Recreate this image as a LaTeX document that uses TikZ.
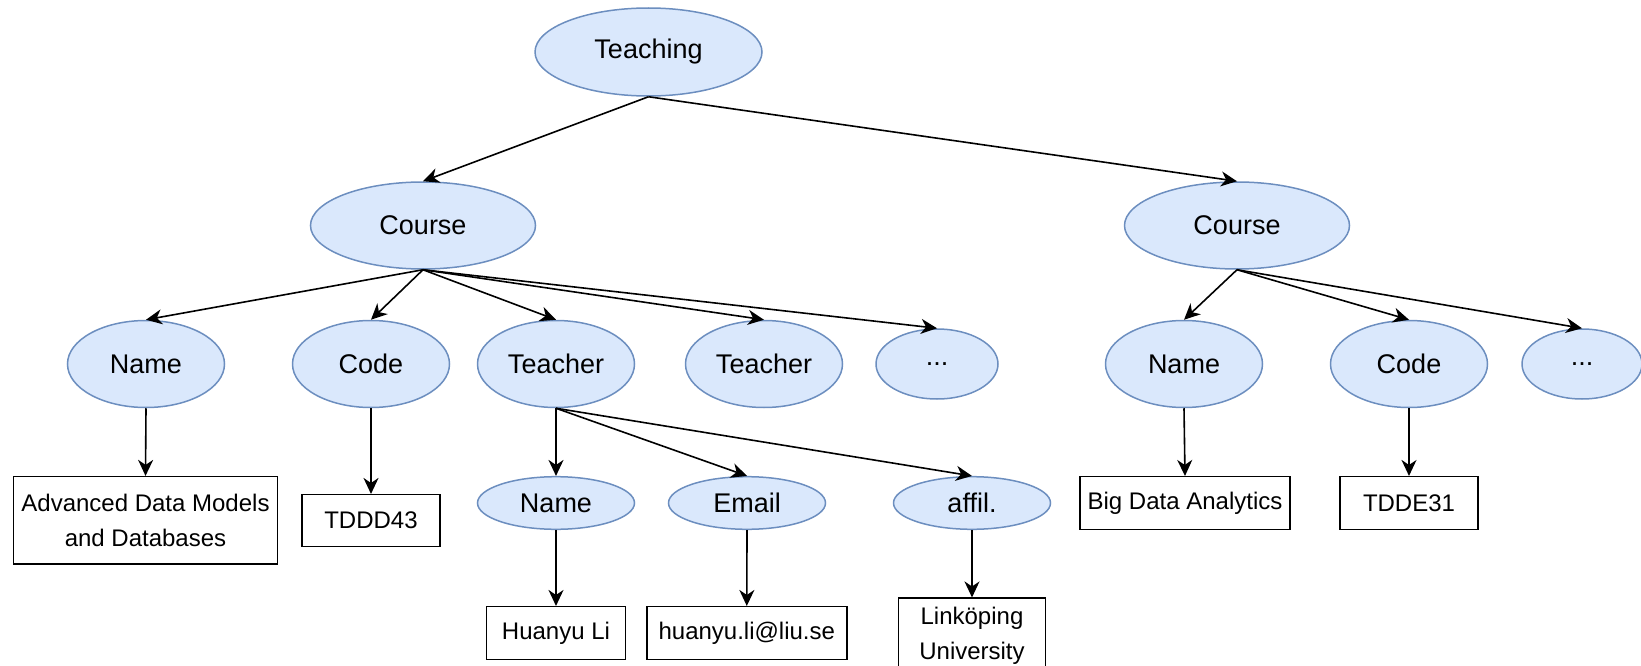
\documentclass[tikz,border=0pt]{standalone}
\usepackage{fontspec}
\setmainfont{Liberation Sans}
\usetikzlibrary{shapes.geometric,arrows.meta}

\definecolor{attrfill}{HTML}{DAE8FC}
\definecolor{attrline}{HTML}{6C8EBF}

\tikzset{
  attr/.style={ellipse, draw=attrline, fill=attrfill, line width=1.5pt,
    inner sep=0pt, font=\fontsize{27}{32}\selectfont},
  big/.style={minimum width=225pt, minimum height=87pt},
  mid/.style={minimum width=157pt, minimum height=87pt},
  dots/.style={minimum width=122pt, minimum height=70pt},
  flat/.style={minimum width=157pt, minimum height=52.6pt},
  val/.style={rectangle, draw=black, line width=1.5pt, inner sep=0pt,
    align=center, font=\fontsize{24}{34.5}\selectfont},
  link/.style={draw=black, line width=1.6pt,
    -{Stealth[length=16pt, width=15pt, inset=5pt]}},
}

\begin{document}
\begin{tikzpicture}[x=1pt, y=-1pt]
  \useasboundingbox (0,0) rectangle (1641,666);
  \clip (0,0) rectangle (1641,666);

  % root and courses
  \node[attr, minimum width=227pt, minimum height=88pt] (teach) at (648.5,52) {Teaching};
  \node[attr, big] (c1) at (423,225.5) {Course};
  \node[attr, big] (c2) at (1237,225.5) {Course};

  % attributes of the first course
  \node[attr, mid] (n1) at (146,364) {Name};
  \node[attr, mid] (k1) at (371,364) {Code};
  \node[attr, mid] (t1) at (556,364) {Teacher};
  \node[attr, mid] (t2) at (764,364) {Teacher};
  \node[attr, dots] (d1) at (937,364) {...};

  % attributes of the second course
  \node[attr, mid] (n2) at (1184,364) {Name};
  \node[attr, mid] (k2) at (1409,364) {Code};
  \node[attr, minimum width=120pt, minimum height=70pt] (d2) at (1582,364) {...};

  % attributes of the teacher
  \node[attr, flat] (tn) at (556,503) {Name};
  \node[attr, flat] (te) at (747,503) {Email};
  \node[attr, flat] (ta) at (972,503) {affil.};

  % values
  \node[val, minimum width=264pt, minimum height=87.3pt] (v1) at (145.5,520.3)
    {Advanced Data Models\\and Databases};
  \node[val, minimum width=138pt, minimum height=51.6pt] (v2) at (371,520.5) {TDDD43};
  \node[val, minimum width=139pt, minimum height=52.6pt] (v3) at (556,633) {Huanyu Li};
  \node[val, minimum width=200pt, minimum height=52.6pt] (v4) at (746.8,633) {huanyu.li@liu.se};
  \node[val, minimum width=147pt, minimum height=75.6pt] (v5) at (972,636)
    {Linköping\\University};
  \node[val, minimum width=210pt, minimum height=52.6pt] (v6) at (1185,503) {Big Data Analytics};
  \node[val, minimum width=138pt, minimum height=52.6pt] (v7) at (1409,503) {TDDE31};

  % connectors
  \draw[link] (teach.south) -- (c1.north);
  \draw[link] (teach.south) -- (c2.north);

  \draw[link] (c1.south) -- (n1.north);
  \draw[link] (c1.south) -- (k1.north);
  \draw[link] (c1.south) -- (t1.north);
  \draw[link] (c1.south) -- (t2.north);
  \draw[link] (c1.south) -- (d1.north);

  \draw[link] (c2.south) -- (n2.north);
  \draw[link] (c2.south) -- (k2.north);
  \draw[link] (c2.south) -- (d2.north);

  \draw[link] (t1.south) -- (tn.north);
  \draw[link] (t1.south) -- (te.north);
  \draw[link] (t1.south) -- (ta.north);

  \draw[link] (n1.south) -- (v1.north);
  \draw[link] (k1.south) -- (v2.north);
  \draw[link] (tn.south) -- (v3.north);
  \draw[link] (te.south) -- (v4.north);
  \draw[link] (ta.south) -- (v5.north);
  \draw[link] (n2.south) -- (v6.north);
  \draw[link] (k2.south) -- (v7.north);
\end{tikzpicture}
\end{document}
